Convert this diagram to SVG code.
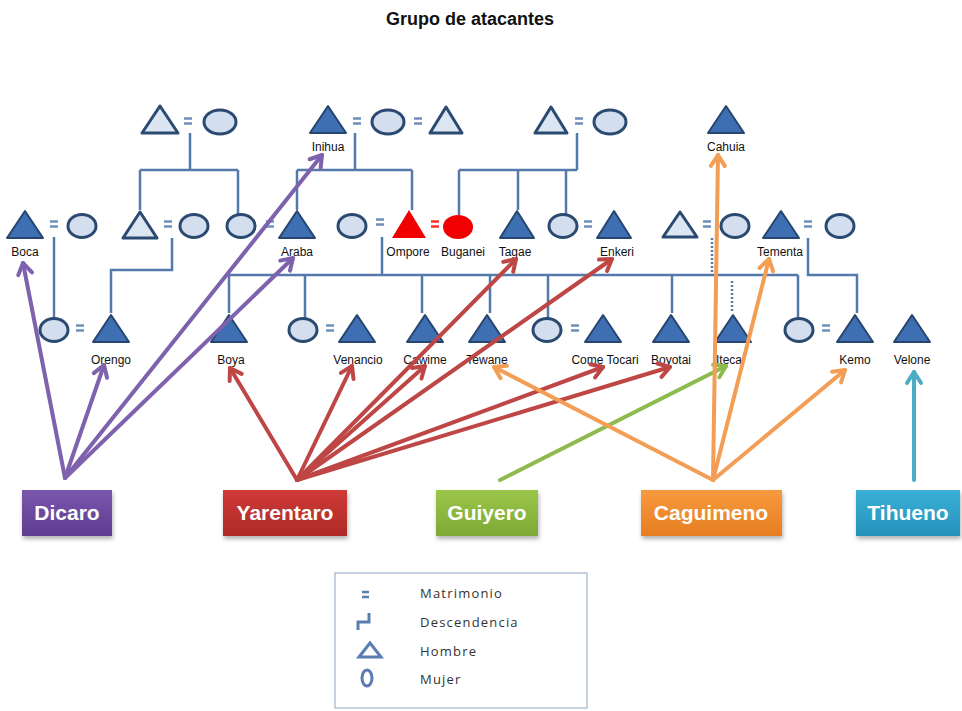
<svg xmlns="http://www.w3.org/2000/svg" width="962" height="711" viewBox="0 0 962 711">
<defs>
<style>
.dk{fill:#3F6FB3;stroke:#26466F;stroke-width:2;stroke-linejoin:round}
.lt{fill:#DCE6F2;stroke:#2B4A72;stroke-width:3;stroke-linejoin:round}
.el{fill:#D3DFEE;stroke:#2B4A72;stroke-width:3}
.eq{stroke:#6F8FBA;stroke-width:2.5}
.ln{stroke:#5479AA;stroke-width:2.5;fill:none}
.dot{stroke:#5479AA;stroke-width:2.5;fill:none;stroke-dasharray:2 2}
.lbl{font-family:"Liberation Sans",Arial,sans-serif;font-size:12px;fill:#111;text-anchor:middle}
.box{font-family:"Liberation Sans",Arial,sans-serif;font-size:21px;font-weight:bold;fill:#fff;text-anchor:middle}
.leg{font-family:"Open Sans","Liberation Sans",sans-serif;font-size:13px;fill:#333;letter-spacing:1.2px}
.ar{fill:none;stroke-width:4;stroke-linecap:round}
.lg{fill:none;stroke:#5B7DB1;stroke-width:3}
</style>
<marker id="mP" markerUnits="userSpaceOnUse" markerWidth="20" markerHeight="20" refX="14" refY="10" orient="auto"><path d="M3,3 L14,10 L3,17" fill="none" stroke="#7E62AE" stroke-width="4" stroke-linecap="round" stroke-linejoin="round"/></marker>
<marker id="mR" markerUnits="userSpaceOnUse" markerWidth="20" markerHeight="20" refX="14" refY="10" orient="auto"><path d="M3,3 L14,10 L3,17" fill="none" stroke="#BE4645" stroke-width="4" stroke-linecap="round" stroke-linejoin="round"/></marker>
<marker id="mG" markerUnits="userSpaceOnUse" markerWidth="20" markerHeight="20" refX="14" refY="10" orient="auto"><path d="M3,3 L14,10 L3,17" fill="none" stroke="#8DBB4E" stroke-width="4" stroke-linecap="round" stroke-linejoin="round"/></marker>
<marker id="mO" markerUnits="userSpaceOnUse" markerWidth="20" markerHeight="20" refX="14" refY="10" orient="auto"><path d="M3,3 L14,10 L3,17" fill="none" stroke="#F39D55" stroke-width="4" stroke-linecap="round" stroke-linejoin="round"/></marker>
<marker id="mT" markerUnits="userSpaceOnUse" markerWidth="20" markerHeight="20" refX="14" refY="10" orient="auto"><path d="M3,3 L14,10 L3,17" fill="none" stroke="#4BACC6" stroke-width="4" stroke-linecap="round" stroke-linejoin="round"/></marker>
<linearGradient id="gP" x1="0" y1="0" x2="0" y2="1"><stop offset="0" stop-color="#7A57AE"/><stop offset="1" stop-color="#5E3D90"/></linearGradient>
<linearGradient id="gR" x1="0" y1="0" x2="0" y2="1"><stop offset="0" stop-color="#CF3A36"/><stop offset="1" stop-color="#AE2A27"/></linearGradient>
<linearGradient id="gG" x1="0" y1="0" x2="0" y2="1"><stop offset="0" stop-color="#9CC64A"/><stop offset="1" stop-color="#7DA935"/></linearGradient>
<linearGradient id="gO" x1="0" y1="0" x2="0" y2="1"><stop offset="0" stop-color="#F79A3E"/><stop offset="1" stop-color="#E67E22"/></linearGradient>
<linearGradient id="gT" x1="0" y1="0" x2="0" y2="1"><stop offset="0" stop-color="#3BB0D6"/><stop offset="1" stop-color="#2592BC"/></linearGradient>
<filter id="sh" x="-10%" y="-10%" width="130%" height="140%"><feDropShadow dx="1" dy="3" stdDeviation="2" flood-color="#000" flood-opacity="0.3"/></filter>
</defs>
<rect width="962" height="711" fill="#fff"/>
<text x="470" y="25" font-family="Liberation Sans,Arial,sans-serif" font-size="18" font-weight="bold" fill="#111" text-anchor="middle">Grupo de atacantes</text>

<g id="connectors">
<path class="ln" d="M190,133 V170 M140,170 H238 M140,170 V210 M238,170 V215"/>
<path class="ln" d="M54,237 V318"/>
<path class="ln" d="M172,238 V270 H111 V313"/>
<path class="ln" d="M355,133 V170 M297,170 H412 M297,170 V210 M412,170 V210"/>
<path class="ln" d="M577,133 V170 M459,170 H577 M459,170 V215 M518,170 V210 M566,170 V215"/>
<path class="ln" d="M382,237 V275 M228,275 H798"/>
<path class="ln" d="M229,275 V313 M305,275 V318 M422,275 V313 M490,275 V313 M548,275 V318 M672,275 V313 M798,275 V318"/>
<path class="dot" d="M712,238 V273 M732,281 V313"/>
<path class="ln" d="M808,238 V275 H857 V313"/>
</g>

<g id="n-top-left"><polygon class="lt" points="142,133 160,106 178,133"/><path class="eq" d="M184,118.5 H192 M184,123.5 H192"/><ellipse class="el" cx="220" cy="122" rx="16" ry="12"/></g>
<g id="n-inihua"><polygon class="dk" points="310,133 328,106 346,133"/><path class="eq" d="M353,118.5 H361 M353,123.5 H361"/><ellipse class="el" cx="388" cy="122" rx="16" ry="12"/><path class="eq" d="M414,118.5 H422 M414,123.5 H422"/><polygon class="lt" points="430,133 446,107 462,133"/><text class="lbl" x="328" y="151">Inihua</text></g>
<g id="n-top-right"><polygon class="lt" points="535,133 551,107 567,133"/><path class="eq" d="M575,118.5 H583 M575,123.5 H583"/><ellipse class="el" cx="610" cy="122" rx="16" ry="12"/></g>
<g id="n-cahuia"><polygon class="dk" points="708,133 726,106 744,133"/><text class="lbl" x="726" y="151">Cahuia</text></g>

<g id="n-boca"><polygon class="dk" points="7,238 25,211 43,238"/><path class="eq" d="M50,221.5 H58 M50,226.5 H58"/><ellipse class="el" cx="82" cy="226" rx="14" ry="11.5"/><text class="lbl" x="25" y="256">Boca</text></g>
<g id="n-mid-couple"><polygon class="lt" points="123,238 140,212 157,238"/><path class="eq" d="M164,221.5 H172 M164,226.5 H172"/><ellipse class="el" cx="194" cy="226" rx="14" ry="11.5"/></g>
<g id="n-araba"><ellipse class="el" cx="241" cy="226" rx="14" ry="11.5"/><path class="eq" d="M266,221.5 H274 M266,226.5 H274"/><polygon class="dk" points="279,238 297,211 315,238"/><text class="lbl" x="297" y="256">Araba</text></g>
<g id="n-ompore"><ellipse class="el" cx="352" cy="226" rx="14" ry="11.5"/><path class="eq" d="M376,219.5 H384 M376,224.5 H384"/><polygon fill="#F00000" points="392,238 409,210 426,238"/><path d="M431,221.5 H439 M431,226.5 H439" stroke="#FF3030" stroke-width="2.5"/><ellipse fill="#F00000" cx="458" cy="227" rx="15" ry="12"/><text class="lbl" x="408" y="256">Ompore</text><text class="lbl" x="463" y="256">Buganei</text></g>
<g id="n-tagae"><polygon class="dk" points="500,238 517,211 534,238"/><text class="lbl" x="515" y="256">Tagae</text></g>
<g id="n-enkeri"><ellipse class="el" cx="563" cy="226" rx="14" ry="11.5"/><path class="eq" d="M584,221.5 H592 M584,226.5 H592"/><polygon class="dk" points="597,238 614,211 631,238"/><text class="lbl" x="617" y="256">Enkeri</text></g>
<g id="n-right-couple"><polygon class="lt" points="663,237 680,212 697,237"/><path class="eq" d="M703,221.5 H711 M703,226.5 H711"/><ellipse class="el" cx="735" cy="226" rx="14" ry="11.5"/></g>
<g id="n-tementa"><polygon class="dk" points="763,238 781,211 799,238"/><path class="eq" d="M804,221.5 H812 M804,226.5 H812"/><ellipse class="el" cx="840" cy="226" rx="14" ry="11.5"/><text class="lbl" x="780" y="256">Tementa</text></g>

<g id="n-orengo"><ellipse class="el" cx="54" cy="330" rx="14" ry="11.5"/><path class="eq" d="M76,325.5 H84 M76,330.5 H84"/><polygon class="dk" points="93,342 111,315 129,342"/><text class="lbl" x="111" y="364">Orengo</text></g>
<g id="n-boya"><polygon class="dk" points="211,342 229,315 247,342"/><text class="lbl" x="231" y="364">Boya</text></g>
<g id="n-venancio"><ellipse class="el" cx="303" cy="330" rx="14" ry="11.5"/><path class="eq" d="M326,325.5 H334 M326,330.5 H334"/><polygon class="dk" points="339,342 357,315 375,342"/><text class="lbl" x="358" y="364">Venancio</text></g>
<g id="n-cawime"><polygon class="dk" points="407,342 425,315 443,342"/><text class="lbl" x="425" y="364">Cawime</text></g>
<g id="n-tewane"><polygon class="dk" points="469,342 487,315 505,342"/><text class="lbl" x="487" y="364">Tewane</text></g>
<g id="n-come-tocari"><ellipse class="el" cx="547" cy="330" rx="14" ry="11.5"/><path class="eq" d="M571,325.5 H579 M571,330.5 H579"/><polygon class="dk" points="585,342 603,315 621,342"/><text class="lbl" x="605" y="364">Come Tocari</text></g>
<g id="n-boyotai"><polygon class="dk" points="653,342 671,315 689,342"/><text class="lbl" x="671" y="364">Boyotai</text></g>
<g id="n-iteca"><polygon class="dk" points="715,342 733,315 751,342"/><text class="lbl" x="729" y="364">Iteca</text></g>
<g id="n-kemo"><ellipse class="el" cx="799" cy="330" rx="14" ry="11.5"/><path class="eq" d="M822,325.5 H830 M822,330.5 H830"/><polygon class="dk" points="837,342 855,315 873,342"/><text class="lbl" x="855" y="364">Kemo</text></g>
<g id="n-velone"><polygon class="dk" points="894,342 912,315 930,342"/><text class="lbl" x="912" y="364">Velone</text></g>

<g id="arrows">
<g>
<line class="ar" stroke="#7E62AE" x1="65" y1="478" x2="23" y2="263" marker-end="url(#mP)"/>
<line class="ar" stroke="#7E62AE" x1="65" y1="478" x2="104" y2="365" marker-end="url(#mP)"/>
<line class="ar" stroke="#7E62AE" x1="65" y1="478" x2="322" y2="155" marker-end="url(#mP)"/>
<line class="ar" stroke="#7E62AE" x1="65" y1="478" x2="293" y2="258" marker-end="url(#mP)"/>
</g>
<g>
<line class="ar" stroke="#BE4645" x1="297" y1="480" x2="230" y2="368" marker-end="url(#mR)"/>
<line class="ar" stroke="#BE4645" x1="297" y1="480" x2="352" y2="366" marker-end="url(#mR)"/>
<line class="ar" stroke="#BE4645" x1="297" y1="480" x2="425" y2="366" marker-end="url(#mR)"/>
<line class="ar" stroke="#BE4645" x1="297" y1="480" x2="516" y2="259" marker-end="url(#mR)"/>
<line class="ar" stroke="#BE4645" x1="297" y1="480" x2="612" y2="259" marker-end="url(#mR)"/>
<line class="ar" stroke="#BE4645" x1="297" y1="480" x2="603" y2="367" marker-end="url(#mR)"/>
<line class="ar" stroke="#BE4645" x1="297" y1="480" x2="670" y2="367" marker-end="url(#mR)"/>
</g>
<line class="ar" stroke="#8DBB4E" x1="500" y1="480" x2="726" y2="366" marker-end="url(#mG)"/>
<g>
<line class="ar" stroke="#F39D55" x1="713" y1="480" x2="494" y2="367" marker-end="url(#mO)"/>
<line class="ar" stroke="#F39D55" x1="713" y1="480" x2="718" y2="155" marker-end="url(#mO)"/>
<line class="ar" stroke="#F39D55" x1="713" y1="480" x2="769" y2="259" marker-end="url(#mO)"/>
<line class="ar" stroke="#F39D55" x1="713" y1="480" x2="845" y2="370" marker-end="url(#mO)"/>
</g>
<line class="ar" stroke="#4BACC6" x1="914" y1="480" x2="914" y2="372" marker-end="url(#mT)"/>
</g>

<g id="n-dicaro"><rect x="22" y="490" width="90" height="46" fill="url(#gP)" filter="url(#sh)"/><text class="box" x="67" y="520">Dicaro</text></g>
<g id="n-yarentaro"><rect x="223" y="490" width="124" height="46" fill="url(#gR)" filter="url(#sh)"/><text class="box" x="285" y="520">Yarentaro</text></g>
<g id="n-guiyero"><rect x="436" y="490" width="102" height="46" fill="url(#gG)" filter="url(#sh)"/><text class="box" x="487" y="520">Guiyero</text></g>
<g id="n-caguimeno"><rect x="641" y="490" width="141" height="46" fill="url(#gO)" filter="url(#sh)"/><text class="box" x="711" y="520">Caguimeno</text></g>
<g id="n-tihueno"><rect x="856" y="490" width="104" height="46" fill="url(#gT)" filter="url(#sh)"/><text class="box" x="908" y="520">Tihueno</text></g>

<g id="legend">
<rect x="335" y="573" width="252" height="135" fill="#fff" stroke="#8EA4BF" stroke-width="1"/>
<path d="M362,592 H369 M362,597 H369" stroke="#5B7DB1" stroke-width="2.5"/>
<path class="lg" d="M369,613 V622 H358 V630"/>
<polygon class="lg" points="359,657 370,643 381,657"/>
<ellipse class="lg" cx="367" cy="678" rx="5" ry="8"/>
<text class="leg" x="420" y="598">Matrimonio</text>
<text class="leg" x="420" y="627">Descendencia</text>
<text class="leg" x="420" y="656">Hombre</text>
<text class="leg" x="420" y="684">Mujer</text>
</g>
</svg>
